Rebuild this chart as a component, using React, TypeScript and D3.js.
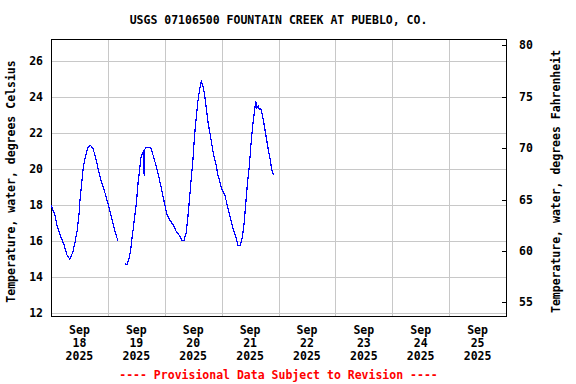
import React from "react";
import * as d3 from "d3";

const title = "USGS 07106500 FOUNTAIN CREEK AT PUEBLO, CO.";
const leftLabel = "Temperature, water, degrees Celsius";
const rightLabel = "Temperature, water, degrees Fahrenheit";
const footer = "---- Provisional Data Subject to Revision ----";

const dayTicks = ["18", "19", "20", "21", "22", "23", "24", "25"];
const celsiusTicks = [12, 14, 16, 18, 20, 22, 24, 26];
const fahrenheitTicks = [55, 60, 65, 70, 75, 80];

// hours since 2025-09-18 00:00 and water temperature (deg C); null = gap
const hours = [
  0, 1.6, 2.5, 3.8, 5.5, 6.7, 7.9, 9.3, 10.2, 11.1, 11.8, 12.3, 12.9, 13.5, 14.2, 14.9, 15.6, 16.7, 17.7,
  18.7, 19.8, 21.2, 22.6, 24.0, 25.4, 26.8, 28.2,
  29.5,
  31.2, 32.1, 33.0, 33.7, 34.2, 34.9, 35.5, 36.1, 36.8, 37.5, 37.9, 38.6, 39.2, 39.3, 39.4, 40.3, 42.0,
  42.8, 43.8, 44.8, 45.9, 47.0, 48.0, 49.0, 50.1, 51.5, 52.9, 54.3, 55.3, 56.1, 57.1, 57.8, 58.5, 59.2,
  59.9, 60.6, 61.3, 62.0, 62.7, 63.4, 64.1, 64.8, 65.5, 66.2, 66.9, 67.7, 68.3, 69.1, 69.8, 70.4, 71.2,
  71.9, 73.3, 74.0, 74.6, 75.4, 76.1, 76.8, 77.5, 78.2, 78.9, 79.9, 80.8, 81.5, 82.2, 82.9, 83.7, 84.3,
  85.1, 85.8, 86.4, 86.9, 87.5, 87.9, 88.6, 89.0, 89.7, 90.4, 91.1, 91.8, 92.5, 93.0, 93.8,
];
const tempC: (number | null)[] = [
  18.0, 17.46, 16.9, 16.35, 15.8, 15.24, 15.0, 15.42, 15.98, 16.63, 17.46, 18.39, 19.13, 19.96, 20.52,
  20.89, 21.17, 21.31, 21.13, 20.7, 20.06, 19.31, 18.76, 18.1, 17.37, 16.63, 16.02,
  null,
  14.74, 14.7, 15.06, 15.6, 16.17, 16.9, 17.56, 18.2, 19.31, 20.06, 20.61, 20.89, 21.0, 19.59, 21.07, 21.2,
  21.2, 20.89, 20.42, 19.96, 19.31, 18.67, 18.02, 17.46, 17.18, 16.9, 16.53, 16.29, 16.02, 16.02, 16.5,
  17.4, 18.4, 19.5, 20.5, 21.91, 22.83, 23.76, 24.41, 24.87, 24.59, 24.13, 23.39, 22.64, 22.09, 21.53,
  20.98, 20.52, 20.14, 19.68, 19.31, 18.94, 18.57, 18.2, 17.83, 17.46, 17.09, 16.72, 16.44, 16.17, 15.76,
  15.76, 16.26, 17.0, 18.11, 19.22, 20.14, 21.26, 22.37, 23.11, 23.76, 23.39, 23.48, 23.29, 23.33, 23.11,
  22.64, 22.09, 21.53, 20.98, 20.52, 20.06, 19.68,
];

const W = 576;
const H = 384;
const m = { left: 51, top: 39, right: 506, bottom: 316 };
const FONT = "'DejaVu Sans Mono', 'Liberation Mono', monospace";

export default function App() {
  const start = new Date(2025, 8, 18);
  const end = new Date(2025, 8, 26);
  const x = d3.scaleTime().domain([start, end]).range([m.left, m.right]);
  const y = d3.scaleLinear().domain([11.85, 27.2]).range([m.bottom, m.top]);
  const yF = d3.scaleLinear().domain([53.67, 80.61]).range([m.bottom, m.top]);

  const toDate = (h: number) => new Date(start.getTime() + h * 3600 * 1000);
  const data = hours.map((h, i) => ({ t: toDate(h), v: tempC[i] }));
  const line = d3
    .line<{ t: Date; v: number | null }>()
    .defined((d) => d.v !== null)
    .x((d) => x(d.t))
    .y((d) => y(d.v as number));

  const dayLines = d3.timeDay.range(d3.timeDay.offset(start, 1), end);
  const labelDays = d3.timeDay.range(start, end);

  const textStyle = { fontFamily: FONT, fontWeight: "bold" as const, fontSize: 11.5 };
  const midY = (m.top + m.bottom) / 2 + 4;

  return (
    <svg width={W} height={H} style={{ position: "absolute", left: 0, top: 0, background: "#fff" }}>
      <rect x={0} y={0} width={W} height={H} fill="#fff" />
      <text x={(m.left + m.right) / 2} y={24} textAnchor="middle" {...textStyle}>
        {title}
      </text>
      <g shapeRendering="crispEdges">
        {celsiusTicks.map((c) => (
          <line key={c} x1={m.left} x2={m.right} y1={Math.round(y(c)) + 0.5} y2={Math.round(y(c)) + 0.5} stroke="#c8c8c8" />
        ))}
        {dayLines.map((d) => (
          <line key={+d} x1={Math.round(x(d)) + 0.5} x2={Math.round(x(d)) + 0.5} y1={m.top} y2={m.bottom} stroke="#c8c8c8" />
        ))}
        {fahrenheitTicks.map((f) => (
          <line key={f} x1={m.right - 4} x2={m.right} y1={Math.round(yF(f)) + 0.5} y2={Math.round(yF(f)) + 0.5} stroke="#000" />
        ))}
        <rect x={m.left + 0.5} y={m.top + 0.5} width={m.right - m.left} height={m.bottom - m.top} fill="none" stroke="#000" />
      </g>
      <path d={line(data as any) || ""} fill="none" stroke="#0000ff" strokeWidth={1.2} shapeRendering="crispEdges" />
      {celsiusTicks.map((c) => (
        <text key={c} x={43} y={y(c) + 4} textAnchor="end" {...textStyle}>
          {c}
        </text>
      ))}
      {fahrenheitTicks.map((f) => (
        <text key={f} x={519} y={yF(f) + 4} textAnchor="start" {...textStyle}>
          {f}
        </text>
      ))}
      {labelDays.map((d, i) => {
        const cx = x(d3.timeHour.offset(d, 12));
        return (
          <text key={+d} textAnchor="middle" {...textStyle}>
            <tspan x={cx} y={334}>Sep</tspan>
            <tspan x={cx} y={347}>{dayTicks[i]}</tspan>
            <tspan x={cx} y={360}>2025</tspan>
          </text>
        );
      })}
      <text transform={`translate(15,${midY}) rotate(-90)`} textAnchor="middle" {...textStyle}>
        {leftLabel}
      </text>
      <text transform={`translate(560,${midY}) rotate(-90)`} textAnchor="middle" {...textStyle}>
        {rightLabel}
      </text>
      <text x={(m.left + m.right) / 2} y={379} textAnchor="middle" {...textStyle} fill="#ff0000">
        {footer}
      </text>
    </svg>
  );
}
